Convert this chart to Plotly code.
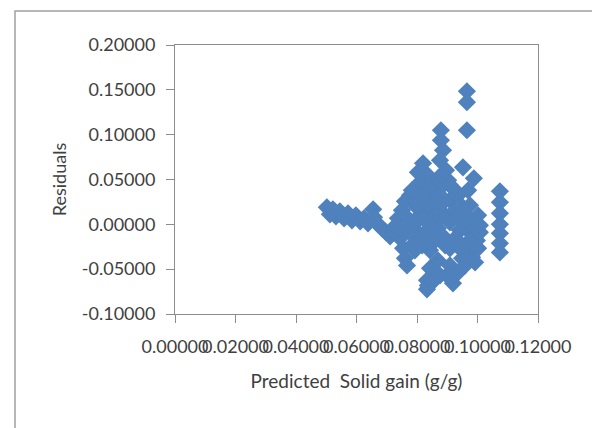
import plotly.graph_objects as go

# Predicted solid gain (g/g) and residuals
predicted = [
    # tail of low predictions
    0.0502, 0.0512, 0.0522, 0.0532, 0.0545, 0.0559, 0.0572, 0.0585, 0.0598, 0.0612,
    0.0625, 0.0638, 0.0655, 0.0658, 0.0671, 0.0684, 0.0698, 0.0711, 0.0724,
    # upper points
    0.0965, 0.0965, 0.0965, 0.0879, 0.0879, 0.0886, 0.0876, 0.0952, 0.0988,
    0.0820, 0.0803, 0.0810, 0.0896, 0.0903, 0.0876, 0.0850,
    # main cluster
    0.0777, 0.0760, 0.0750, 0.0737, 0.0727, 0.0744, 0.0754, 0.0760, 0.0767,
    0.0793, 0.0810, 0.0826, 0.0843, 0.0860, 0.0836, 0.0803, 0.0784, 0.0817,
    0.0793, 0.0843, 0.0860, 0.0869, 0.0893, 0.0909, 0.0926, 0.0893, 0.0869,
    0.0843, 0.0833, 0.0833, 0.0876, 0.0909, 0.0919, 0.0936, 0.0949, 0.0959,
    0.0942, 0.0952, 0.0969, 0.0985, 0.0998, 0.0982, 0.0982, 0.1008, 0.0969,
    0.0926, 0.0893, 0.0863, 0.0826,
    0.0760, 0.0793, 0.0826, 0.0850, 0.0876, 0.0909, 0.0936, 0.0962, 0.0926,
    0.0893, 0.0850, 0.0810, 0.0777, 0.0744, 0.0783, 0.0826, 0.0909, 0.0942,
    0.0975, 0.1002, 0.0992, 0.0959, 0.0899, 0.0836, 0.0850, 0.0783, 0.0810,
    0.0843, 0.0869, 0.0836, 0.0909, 0.0936, 0.0975, 0.1002, 0.1008, 0.0876,
    0.0836, 0.0803,
    # right column
    0.1074, 0.1074, 0.1074, 0.1074, 0.1074, 0.1074, 0.1074,
]
residuals = [
    0.0190, 0.0112, 0.0167, 0.0089, 0.0145, 0.0067, 0.0123, 0.0045, 0.0100, 0.0033,
    0.0067, 0.0011, 0.0167, 0.0078, 0.0000, -0.0045, -0.0089, -0.0134, -0.0067,
    0.1484, 0.1362, 0.1049, 0.1049, 0.0938, 0.0826, 0.0714, 0.0636, 0.0513,
    0.0681, 0.0580, 0.0469, 0.0603, 0.0491, 0.0402, 0.0357,
    0.0324, 0.0257, 0.0156, 0.0067, -0.0022, -0.0156, -0.0268, -0.0379, -0.0458,
    0.0212, 0.0100, 0.0268, 0.0156, 0.0045, -0.0067, -0.0089, -0.0011, -0.0234,
    -0.0290, -0.0290, -0.0179, -0.0045, 0.0100, 0.0268, 0.0156, -0.0234, -0.0402,
    -0.0491, -0.0625, -0.0725, -0.0569, -0.0458, -0.0658, -0.0536, -0.0379, -0.0234,
    -0.0067, 0.0190, 0.0067, -0.0045, -0.0179, -0.0290, -0.0368, -0.0089, 0.0379,
    0.0379, 0.0268, 0.0268, 0.0379,
    0.0100, 0.0022, 0.0045, -0.0045, 0.0067, 0.0022, 0.0067, -0.0045, -0.0156,
    -0.0156, -0.0156, -0.0156, -0.0089, -0.0045, -0.0234, -0.0201, -0.0268, -0.0268,
    -0.0179, -0.0268, -0.0424, -0.0458, -0.0569, -0.0681, -0.0647, 0.0379, 0.0324,
    0.0435, 0.0513, 0.0547, 0.0435, 0.0324, 0.0212, 0.0100, -0.0011, 0.0212,
    0.0212, 0.0212,
    0.0368, 0.0246, 0.0123, 0.0000, -0.0100, -0.0212, -0.0313,
]

x_ticks = [0.0, 0.02, 0.04, 0.06, 0.08, 0.10, 0.12]
x_labels = ["0.00000", "0.02000", "0.04000", "0.06000", "0.08000", "0.10000", "0.12000"]
y_ticks = [-0.10, -0.05, 0.0, 0.05, 0.10, 0.15, 0.20]
y_labels = ["-0.10000", "-0.05000", "0.00000", "0.05000", "0.10000", "0.15000", "0.20000"]

FONT = "Lato"
TXT = "#404040"
GRID = "#8c8c8c"

fig = go.Figure()
fig.add_trace(go.Scatter(
    x=predicted, y=residuals, mode="markers",
    marker=dict(symbol="diamond", size=14, color="#4F81BD", line=dict(width=0)),
    showlegend=False,
))

fig.update_layout(
    width=600, height=428,
    margin=dict(l=167, r=70, t=37, b=122),
    paper_bgcolor="white", plot_bgcolor="white",
    font=dict(family=FONT, size=18, color=TXT),
    xaxis=dict(
        range=[-1e-9, 0.1200001], tickvals=x_ticks, ticktext=x_labels, tickangle=0,
        showgrid=False, zeroline=False,
        showline=True, linecolor=GRID, linewidth=1, mirror=True,
        ticks="outside", ticklen=8, tickcolor=GRID, ticklabelstandoff=8,
        tickfont=dict(family=FONT, size=18, color=TXT),
        title=dict(text="Predicted  Solid gain (g/g)", standoff=19,
                   font=dict(family=FONT, size=19, color=TXT)),
        automargin=False,
    ),
    yaxis=dict(
        range=[-0.1000001, 0.2000001], tickvals=y_ticks, ticktext=y_labels,
        showgrid=False, zeroline=False,
        showline=True, linecolor=GRID, linewidth=1, mirror=True,
        ticks="outside", ticklen=8, tickcolor=GRID, ticklabelstandoff=7,
        tickfont=dict(family=FONT, size=18, color=TXT),
        title=dict(text="Residuals", standoff=10,
                   font=dict(family=FONT, size=18, color=TXT)),
        automargin=False,
    ),
    shapes=[dict(
        type="rect", xref="paper", yref="paper",
        x0=-0.4408, x1=1.157, y0=-0.45, y1=1.1264,
        line=dict(color="#a0a0a0", width=1.5), fillcolor="rgba(0,0,0,0)",
        layer="below",
    )],
)

fig.write_html("out.html")
